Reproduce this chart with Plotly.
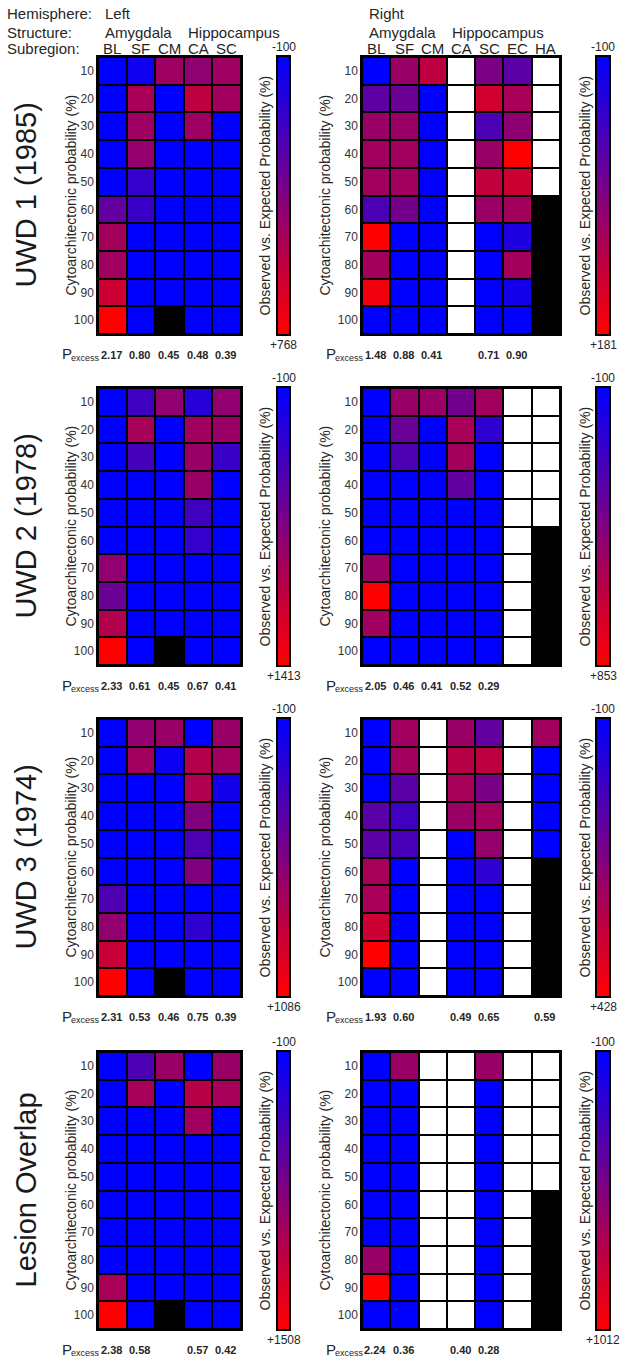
import plotly.graph_objects as go

# the page margin is removed in the browser (post_script), so the figure fills the page
PAGE_W, PAGE_H = 633, 1360
OFF = 0
FW, FH = PAGE_W - OFF, PAGE_H - OFF
FONT = "Arial, 'Liberation Sans', sans-serif"
TXT = "#262626"

# ---------------- data ----------------
SUB_L = ["BL", "SF", "CM", "CA", "SC"]
SUB_R = ["BL", "SF", "CM", "CA", "SC", "EC", "HA"]
PROB = ["10", "20", "30", "40", "50", "60", "70", "80", "90", "100"]
ROW_TITLES = ["UWD 1 (1985)", "UWD 2 (1978)", "UWD 3 (1974)", "Lesion Overlap"]
HEMI = ["Left", "Right"]
STRUCT = ["Amygdala", "Hippocampus"]
HDR_LABELS = ["Hemisphere:", "Structure:", "Subregion:"]
CB_MIN = -100
CB_MAX_L = [768, 1413, 1086, 1508]
CB_MAX_R = [181, 853, 428, 1012]

N = None   # no data (white cell)
K = "K"    # black cell

UWD1_L = [
    [-100, -48, 438, 386, 438],
    [-100, 473, -100, 551, 447],
    [-100, 438, -100, 438, -100],
    [-100, 403, -100, -100, -100],
    [-100, 74, -100, -100, -100],
    [230, 91, -100, -100, -100],
    [456, -100, -100, -100, -100],
    [447, -100, -100, -100, -100],
    [594, -100, -100, -100, -100],
    [768, -100, K, -100, -100],
]
UWD1_R = [
    [-100, 69, 111, N, 35, -2, N],
    [1, 18, -100, N, 130, 85, N],
    [69, 69, -100, N, -16, 57, N],
    [77, 77, -100, N, 69, 181, N],
    [77, 77, -100, N, 114, 125, N],
    [-16, 26, -100, N, 69, 80, K],
    [181, -100, -100, N, -100, -66, K],
    [80, -100, -100, N, -100, 80, K],
    [167, -100, -100, N, -100, -78, K],
    [-100, -100, -100, N, -100, -100, K],
]
UWD2_L = [
    [-100, 278, 762, 127, 762],
    [-100, 883, -100, 853, 808],
    [-100, 309, -100, 808, 233],
    [-100, -100, -100, 808, -100],
    [-100, -100, -100, 278, -100],
    [-100, -100, -100, 203, -100],
    [762, -100, -100, -100, -100],
    [535, -100, -100, -100, -100],
    [959, -100, -100, -100, -100],
    [1413, -100, K, -100, -100],
]
UWD2_R = [
    [-100, 472, 472, 329, 500, N, N],
    [-100, 300, -100, 529, 72, N, N],
    [-100, 186, -100, 510, -100, N, N],
    [-100, -100, -100, 262, -100, N, N],
    [-100, -100, -100, -100, -100, N, N],
    [-100, -100, -100, -100, -100, N, K],
    [472, -100, -100, -100, -100, N, K],
    [853, -100, -100, -100, -100, N, K],
    [500, -100, -100, -100, -100, N, K],
    [-100, -100, -100, -100, -100, N, K],
]
UWD3_L = [
    [-100, 576, 612, -100, 612],
    [-100, 647, -41, 730, 647],
    [-100, -100, -100, 718, -5],
    [-100, -100, -100, 493, -100],
    [-100, -100, -100, 256, -100],
    [-100, -100, -100, 493, -100],
    [256, -100, -100, -100, -100],
    [576, -100, -100, 113, -100],
    [825, -100, -100, -100, -100],
    [1086, -100, K, -100, -100],
]
UWD3_R = [
    [-100, 233, N, 217, 101, N, 233],
    [-100, 233, N, 280, 296, N, -100],
    [-100, 85, N, 243, 153, N, -100],
    [85, 32, N, 217, 233, N, -100],
    [85, 48, N, -100, 206, N, -100],
    [243, -100, N, -100, -5, N, K],
    [248, -100, N, -100, -100, N, K],
    [322, -100, N, -100, -100, N, K],
    [428, -100, N, -100, -100, N, K],
    [-100, -100, N, -100, -100, N, K],
]
LES_L = [
    [-100, 382, 865, -100, 865],
    [-100, 945, -100, 1058, 945],
    [-100, -100, -100, 913, -100],
    [-100, -100, -100, -100, -100],
    [-100, -100, -100, -100, -100],
    [-100, -100, -100, -100, -100],
    [-100, -100, -100, -100, -100],
    [-100, -100, -100, -100, -100],
    [961, -100, -100, -100, -100],
    [1508, -100, K, -100, -100],
]
LES_R = [
    [-100, 567, N, N, 567, N, N],
    [-100, -100, N, N, -100, N, N],
    [-100, -100, N, N, -100, N, N],
    [-100, -100, N, N, -100, N, N],
    [-100, -100, N, N, -100, N, N],
    [-100, -100, N, N, -100, N, K],
    [-100, -100, N, N, -100, N, K],
    [567, -100, N, N, -100, N, K],
    [1012, -100, N, N, -100, N, K],
    [-100, -100, N, N, -100, N, K],
]
PEX_L = [
    [2.17, 0.80, 0.45, 0.48, 0.39],
    [2.33, 0.61, 0.45, 0.67, 0.41],
    [2.31, 0.53, 0.46, 0.75, 0.39],
    [2.38, 0.58, None, 0.57, 0.42],
]
PEX_R = [
    [1.48, 0.88, 0.41, None, 0.71, 0.90, None],
    [2.05, 0.46, 0.41, 0.52, 0.29, None, None],
    [1.93, 0.60, None, 0.49, 0.65, None, 0.59],
    [2.24, 0.36, None, 0.40, 0.28, None, None],
]
DATA_L = [UWD1_L, UWD2_L, UWD3_L, LES_L]
DATA_R = [UWD1_R, UWD2_R, UWD3_R, LES_R]

# ---------------- geometry (page pixels) ----------------
TOPS = [57, 388, 719, 1052]
PH = 277
LX = (98, 241)
RX = (362, 560)
LCB = (278, 289)
RCB = (597, 609)
LCB_TITLE_X = 264
RCB_TITLE_X = 584
LYT_X = 70
RYT_X = 324
LPEX_X = 60
RPEX_X = 324
HDR_Y = [14, 32, 49]

BLUE_RED = [[0, "rgb(0,0,255)"], [1, "rgb(255,0,0)"]]


def fx(p):
    return (p - OFF) / FW


def fy(p):
    return 1 - (p - OFF) / FH


fig = go.Figure()
layout = dict(
    width=FW, height=FH, autosize=False,
    margin=dict(l=0, r=0, t=0, b=0),
    paper_bgcolor="white", plot_bgcolor="black",
    showlegend=False, font=dict(family=FONT, color=TXT),
)
ann = []
axn = 0


def add_axes(xdom, ydom, xkw, ykw):
    global axn
    axn += 1
    key = "" if axn == 1 else str(axn)
    xa, ya = f"x{key}", f"y{key}"
    layout["xaxis" + key] = dict(
        domain=xdom, anchor=ya, showgrid=False, zeroline=False,
        showline=True, mirror=True, linecolor="black", linewidth=1.5,
        ticks="", fixedrange=True, **xkw)
    layout["yaxis" + key] = dict(
        domain=ydom, anchor=xa, showgrid=False, zeroline=False,
        showline=True, mirror=True, linecolor="black", linewidth=1.5,
        ticks="", fixedrange=True, **ykw)
    return xa, ya


def text(t, x, y, size, xanchor="center", angle=0, color=TXT, xref="paper", xshift=0):
    ann.append(dict(text=t, xref=xref, yref="paper", x=x, y=y, xanchor=xanchor,
                    yanchor="middle", textangle=angle, showarrow=False, xshift=xshift,
                    font=dict(size=size, color=color, family=FONT)))


for i in range(4):
    top = TOPS[i]
    bot = top + PH
    ydom = [fy(bot), fy(top)]
    sides = [
        (DATA_L[i], SUB_L, PEX_L[i], CB_MAX_L[i], LX, LCB, LCB_TITLE_X, LYT_X, LPEX_X),
        (DATA_R[i], SUB_R, PEX_R[i], CB_MAX_R[i], RX, RCB, RCB_TITLE_X, RYT_X, RPEX_X),
    ]
    for data, subs, pex, cbmax, xr, cbr, cbtx, ytx, pexx in sides:
        xa, ya = add_axes(
            [fx(xr[0]), fx(xr[1])], ydom,
            dict(showticklabels=False, categoryorder="array", categoryarray=subs),
            dict(autorange="reversed", tickfont=dict(size=12, color="#333333"),
                 categoryorder="array", categoryarray=PROB),
        )
        z = [[v if isinstance(v, (int, float)) else None for v in row] for row in data]
        zw = [[1 if v is None else None for v in row] for row in data]
        fig.add_trace(go.Heatmap(
            z=z, x=subs, y=PROB, colorscale=BLUE_RED, zmin=CB_MIN, zmax=cbmax,
            showscale=False, xgap=2, ygap=2, xaxis=xa, yaxis=ya, hoverongaps=False))
        if any(v is not None for row in zw for v in row):
            fig.add_trace(go.Heatmap(
                z=zw, x=subs, y=PROB, colorscale=[[0, "white"], [1, "white"]],
                zmin=0, zmax=1, showscale=False, xgap=2, ygap=2,
                xaxis=xa, yaxis=ya, hoverongaps=False))
        # subregion labels above the top row of panels
        if i == 0:
            for sub in subs:
                text(sub, sub, fy(HDR_Y[2]), 15, xref=xa)
        # P_excess row
        text("P", fx(pexx), fy(bot + 20), 15, xanchor="left")
        text("excess", fx(pexx + 9), fy(bot + 24), 9, xanchor="left")
        for sub, val in zip(subs, pex):
            if val is not None:
                text(f"<b>{val:.2f}</b>", sub, fy(bot + 21), 11, xref=xa, xshift=-1)
        # y axis title
        text("Cytoarchitectonic probability (%)", fx(ytx), fy(top + PH / 2), 14, angle=-90)
        # colour bar drawn as its own heatmap
        steps = 256
        grad = [CB_MIN + (cbmax - CB_MIN) * k / (steps - 1) for k in range(steps)]
        cxa, cya = add_axes(
            [fx(cbr[0]), fx(cbr[1])], ydom,
            dict(showticklabels=False),
            dict(showticklabels=False, autorange="reversed"),
        )
        fig.add_trace(go.Heatmap(
            z=[[g] for g in grad], x=[0], y=grad, colorscale=BLUE_RED,
            zmin=CB_MIN, zmax=cbmax, showscale=False, xaxis=cxa, yaxis=cya,
            hoverinfo="skip"))
        cx = fx((cbr[0] + cbr[1]) / 2)
        text(f"{CB_MIN}", cx, fy(top - 10), 12)
        text(f"+{cbmax}", cx, fy(bot + 11), 12)
        text("Observed vs. Expected Probability (%)", fx(cbtx), fy(top + PH / 2), 14, angle=-90)
    # row title
    text(ROW_TITLES[i], fx(25), fy(top + PH / 2), 29, angle=-90, color="#1a1a1a")

# header
for lab, yy in zip(HDR_LABELS, HDR_Y):
    text(lab, fx(5), fy(yy), 15, xanchor="left")
for hemi, x0, hip_x in [(HEMI[0], LX[0] + 5, 186), (HEMI[1], RX[0] + 5, 450)]:
    text(hemi, fx(x0), fy(HDR_Y[0]), 15, xanchor="left")
    text(STRUCT[0], fx(x0), fy(HDR_Y[1]), 15, xanchor="left")
    text(STRUCT[1], fx(hip_x), fy(HDR_Y[1]), 15, xanchor="left")

layout["annotations"] = ann
fig.update_layout(**layout)
fig.write_html("out.html", config={"displayModeBar": False},
               post_script="document.body.style.margin='0px';")
